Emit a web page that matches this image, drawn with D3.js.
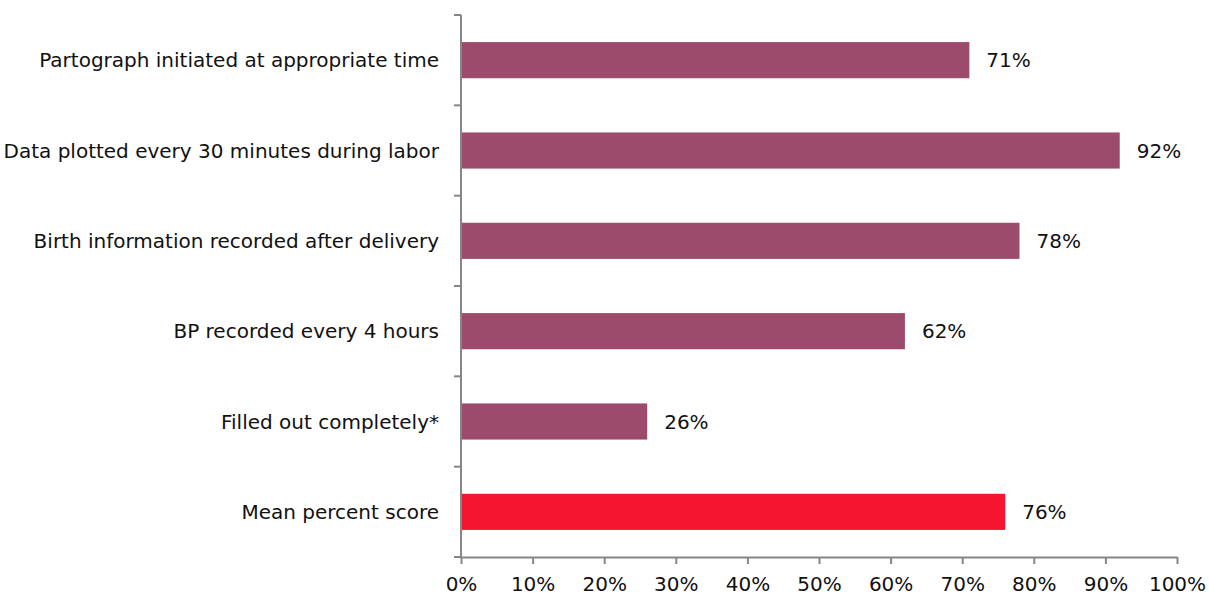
<!DOCTYPE html>
<html lang="en">
<head>
  <meta charset="UTF-8" />
  <script src="https://d3js.org/d3.v7.min.js"></script>
  <style>
    body { margin: 0; background: #fff; }
    svg { display: block; }
    text { font-family: "DejaVu Sans", Verdana, sans-serif; fill: #111; }
    .axis path, .axis line { stroke: #868686; stroke-width: 2; }
    .axis text { font-size: 20px; }
  </style>
</head>
<body>
  <svg id="chart"></svg>
  <script>
    const categories = [
      "Partograph initiated at appropriate time",
      "Data plotted every 30 minutes during labor",
      "Birth information recorded after delivery",
      "BP recorded every 4 hours",
      "Filled out completely*",
      "Mean percent score"
    ];
    const values = [71, 92, 78, 62, 26, 76];
    const highlight = ["Mean percent score"];
    const xTicks = [0, 10, 20, 30, 40, 50, 60, 70, 80, 90, 100];

    const W = 1209, H = 596;
    const margin = { top: 15, right: 32, bottom: 39, left: 461 };
    const width = W - margin.left - margin.right;
    const height = H - margin.top - margin.bottom;

    const svg = d3.select("#chart").attr("width", W).attr("height", H)
      .append("g").attr("transform", `translate(${margin.left},${margin.top})`);

    const x = d3.scaleLinear().domain([0, 100]).range([0, width]);
    const y = d3.scaleBand().domain(categories).range([0, height])
      .paddingInner(0.6).paddingOuter(0.3);

    // x axis
    const xAxis = svg.append("g").attr("class", "axis")
      .attr("transform", `translate(0,${height})`)
      .call(d3.axisBottom(x).tickValues(xTicks).tickFormat(d => d + "%").tickSize(7).tickSizeOuter(0));
    xAxis.selectAll("text").attr("y", 34).attr("dy", 0);

    // y axis: ticks at band boundaries
    const yAxis = svg.append("g").attr("class", "axis");
    yAxis.append("line").attr("x1", 0).attr("x2", 0).attr("y1", 0).attr("y2", height);
    const bounds = d3.range(categories.length + 1).map(i => i * y.step());
    yAxis.selectAll(".tk").data(bounds).enter().append("line")
      .attr("x1", -7).attr("x2", 0).attr("y1", d => d).attr("y2", d => d);

    // category labels
    svg.selectAll(".cat").data(categories).enter().append("text")
      .attr("class", "cat")
      .attr("x", -22)
      .attr("y", d => y(d) + y.bandwidth() / 2)
      .attr("dy", "0.35em")
      .attr("text-anchor", "end")
      .style("font-size", "20px")
      .text(d => d);

    const data = categories.map((c, i) => ({ c, v: values[i] }));

    svg.selectAll(".bar").data(data).enter().append("rect")
      .attr("class", "bar")
      .attr("x", x(0) + 1)
      .attr("y", d => y(d.c))
      .attr("width", d => x(d.v) - x(0) - 1)
      .attr("height", y.bandwidth())
      .attr("fill", d => highlight.includes(d.c) ? "#f61530" : "#9c4b6d");

    svg.selectAll(".val").data(data).enter().append("text")
      .attr("class", "val")
      .attr("x", d => x(d.v) + 17)
      .attr("y", d => y(d.c) + y.bandwidth() / 2)
      .attr("dy", "0.35em")
      .style("font-size", "20px")
      .text(d => d.v + "%");
  </script>
</body>
</html>
